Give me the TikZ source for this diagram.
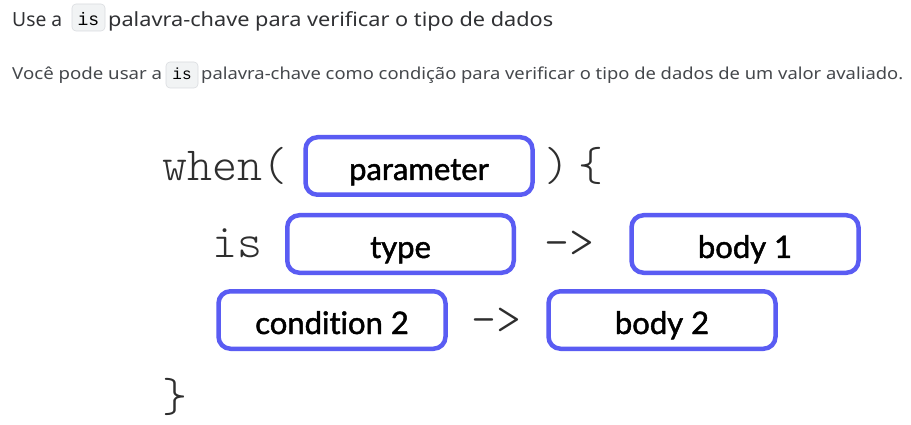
\documentclass[tikz,border=0pt]{standalone}
\usepackage{fontspec}
\setmainfont{Noto Sans}
\newfontfamily\chipfont{Liberation Mono}
\newfontfamily\labelfont[FakeBold=1.5, Ligatures={NoCommon}]{Lato}
\newfontfamily\codefont{Latin Modern Mono Light}
\definecolor{boxblue}{HTML}{5A5CF3}
\definecolor{titlegray}{HTML}{303134}
\definecolor{paragray}{HTML}{45484C}
\definecolor{chipfill}{HTML}{F1F3F4}
\definecolor{chipline}{HTML}{DADCE0}
\definecolor{codegray}{HTML}{2E2E2E}
\tikzset{
  slot/.style={draw=boxblue, line width=4.5pt, rounded corners=12pt, fill=white,
    minimum width=227pt, minimum height=57.5pt, inner sep=0pt,
    text height=28pt, text depth=0pt,
    font=\labelfont\fontsize{31}{33}\selectfont, text=black},
  codetxt/.style={anchor=base west, inner sep=0pt, text=codegray,
    font=\codefont\fontsize{47.6}{50}\selectfont},
  chip/.style={fill=chipfill, draw=chipline, line width=0.6pt, rounded corners=4pt},
  chiptxt/.style={inner sep=0pt, text=black, anchor=base},
  prose/.style={anchor=base west, inner sep=0pt}
}
\begin{document}
\begin{tikzpicture}[x=1pt,y=-1pt]
\useasboundingbox[fill=white] (0,0) rectangle (911,425);
% title line
\node[prose, text=titlegray, font=\fontsize{19.5}{22}\selectfont] (t1) at (12,27) {\resizebox{50pt}{\height}{Use a}};
\draw[chip] (72,4) rectangle (105,31);
\node[chiptxt, font=\chipfont\fontsize{18}{20}\selectfont] (t2) at (88.5,26) {is};
\node[prose, text=titlegray, font=\fontsize{19.5}{22}\selectfont] (t3) at (108,27) {\resizebox{445pt}{\height}{palavra-chave para verificar o tipo de dados}};
% paragraph line
\node[prose, text=paragray, font=\fontsize{16.5}{20}\selectfont] (p1) at (12,80) {\resizebox{150pt}{\height}{Você pode usar a}};
\draw[chip] (166,62) rectangle (198,88);
\node[chiptxt, font=\chipfont\fontsize{16}{18}\selectfont] (p2) at (182,80) {is};
\node[prose, text=paragray, font=\fontsize{16.5}{20}\selectfont] (p3) at (201,80) {\resizebox{702pt}{\height}{palavra-chave como condição para verificar o tipo de dados de um valor avaliado.}};
% code
\node[codetxt] (when) at (162,181) {when(};
\node[slot] (param) at (419,166) {parameter};
\node[codetxt] (rpar) at (544.5,181) {)};
\node[codetxt] (lbr) at (578.5,181) {\{};
\node[codetxt] (is) at (212,258) {is};
\node[slot, minimum width=226.5pt] (type) at (400.5,244) {type};
\node[codetxt] (arr1) at (544,258) {->};
\node[slot] (body1) at (745,244) {body 1};
\node[slot] (cond2) at (332,320) {condition 2};
\node[codetxt] (arr2) at (471,334) {->};
\node[slot] (body2) at (662,320) {body 2};
\node[codetxt] (rbr) at (162.5,411) {\}};
\end{tikzpicture}
\end{document}
